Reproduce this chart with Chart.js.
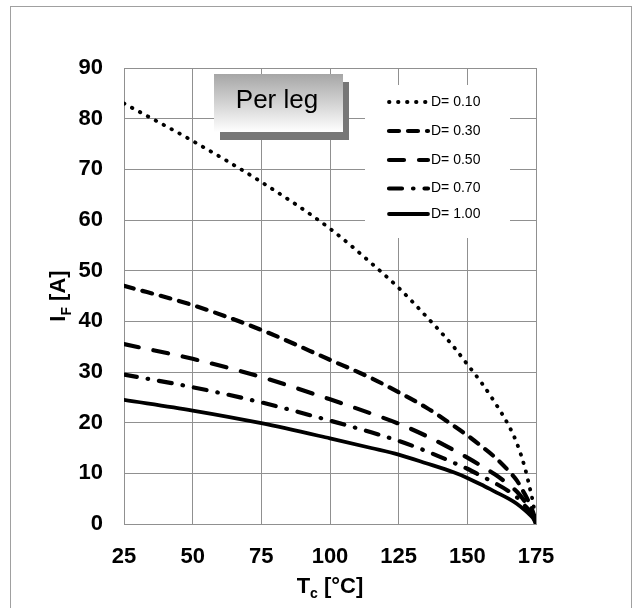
<!DOCTYPE html>
<html>
<head>
<meta charset="utf-8">
<script src="https://cdn.jsdelivr.net/npm/chart.js@4"></script>
<style>
html,body{margin:0;padding:0;background:#fff;}
canvas{display:block;}
</style>
</head>
<body>
<canvas id="c" width="633" height="608"></canvas>
<script>
// ---- data ----
const tempC = [25, 50, 75, 100, 115, 125, 135, 145, 150, 155, 160, 165, 168, 171, 173, 174, 175];
const iD010 = [83, 75.6, 67.5, 58.3, 51.5, 46.6, 41, 35, 31.5, 28, 24, 19.5, 16, 11, 6.5, 4, 0];
const iD030 = [47, 43.2, 38.3, 32.4, 28.8, 26, 23, 19.4, 17.5, 15.4, 13.2, 10.5, 8.6, 5.8, 3.6, 2.2, 0];
const iD050 = [35.5, 32.6, 29, 24.6, 21.8, 19.8, 17.4, 14.6, 13.1, 11.5, 9.8, 7.8, 6.4, 4.4, 2.7, 1.7, 0];
const iD070 = [29.5, 27, 24, 20.4, 18.1, 16.4, 14.4, 12.1, 10.9, 9.5, 8.1, 6.5, 5.3, 3.6, 2.3, 1.4, 0];
const iD100 = [24.5, 22.4, 19.9, 16.9, 15, 13.7, 12, 10.2, 9.1, 7.8, 6.4, 5, 4, 2.7, 1.7, 1.1, 0];
const seriesLabels = ['D= 0.10', 'D= 0.30', 'D= 0.50', 'D= 0.70', 'D= 1.00'];
const xTicks = [25, 50, 75, 100, 125, 150, 175];
const yTicks = [0, 10, 20, 30, 40, 50, 60, 70, 80, 90];

const styles = [
  {w: 3.8, dash: [0.5, 8.5]},
  {w: 4.2, dash: [10, 9]},
  {w: 4.2, dash: [15, 15]},
  {w: 4.2, dash: [13, 11, 0.5, 11]},
  {w: 3.8, dash: []}
];
const allSeries = [iD010, iD030, iD050, iD070, iD100];
const FONT = '"Liberation Sans", Arial, Helvetica, sans-serif';

const datasets = allSeries.map((arr, i) => ({
  label: seriesLabels[i],
  data: tempC.map((t, k) => ({x: t, y: arr[k]})),
  borderColor: '#000',
  borderWidth: styles[i].w,
  borderDash: styles[i].dash,
  borderCapStyle: 'round',
  borderJoinStyle: 'round',
  pointRadius: 0,
  fill: false,
  cubicInterpolationMode: 'monotone'
}));

const decor = {
  id: 'decor',
  beforeDraw(chart) {
    const ctx = chart.ctx;
    ctx.save();
    ctx.fillStyle = '#fff';
    ctx.fillRect(0, 0, chart.width, chart.height);
    ctx.strokeStyle = '#a0a0a0';
    ctx.lineWidth = 1;
    ctx.strokeRect(10.5, 6.5, 621, 620);
    ctx.restore();
  },
  afterDatasetsDraw(chart) {
    const ctx = chart.ctx;
    const ca = chart.chartArea;
    ctx.save();
    // "Per leg" box with shadow and gradient
    ctx.fillStyle = '#777';
    ctx.fillRect(220, 82, 129, 58);
    const g = ctx.createLinearGradient(0, 74, 0, 132);
    g.addColorStop(0, '#a6a6a6');
    g.addColorStop(1, '#ffffff');
    ctx.fillStyle = g;
    ctx.fillRect(214, 74, 129, 58);
    ctx.fillStyle = '#000';
    ctx.font = '26px ' + FONT;
    ctx.textAlign = 'center';
    ctx.textBaseline = 'alphabetic';
    ctx.fillText('Per leg', 277, 108);

    // legend box
    ctx.fillStyle = '#fff';
    ctx.fillRect(365, 85, 145, 153);
    const rowsY = [102, 131, 160, 188.5, 214];
    ctx.font = '14px ' + FONT;
    ctx.textAlign = 'left';
    ctx.textBaseline = 'middle';
    rowsY.forEach((yy, i) => {
      ctx.beginPath();
      ctx.strokeStyle = '#000';
      ctx.lineWidth = styles[i].w;
      ctx.lineCap = 'round';
      ctx.setLineDash(styles[i].dash);
      ctx.moveTo(389, yy);
      ctx.lineTo(428, yy);
      ctx.stroke();
      ctx.setLineDash([]);
      ctx.fillStyle = '#000';
      ctx.fillText(seriesLabels[i], 431, yy);
    });

    // x axis title  T_c [°C]
    ctx.textBaseline = 'alphabetic';
    ctx.textAlign = 'left';
    const bigF = 'bold 22px ' + FONT;
    const smallF = 'bold 14px ' + FONT;
    ctx.font = bigF; const wT = ctx.measureText('T').width;
    ctx.font = smallF; const wc = ctx.measureText('c').width;
    ctx.font = bigF; const wR = ctx.measureText(' [°C]').width;
    let x0 = (ca.left + ca.right) / 2 - (wT + wc + wR) / 2;
    const by = 593;
    ctx.font = bigF; ctx.fillText('T', x0, by);
    ctx.font = smallF; ctx.fillText('c', x0 + wT, by + 5);
    ctx.font = bigF; ctx.fillText(' [°C]', x0 + wT + wc, by);

    // y axis title  I_F [A]
    ctx.translate(65, (ca.top + ca.bottom) / 2);
    ctx.rotate(-Math.PI / 2);
    ctx.font = bigF; const wI = ctx.measureText('I').width;
    ctx.font = smallF; const wF = ctx.measureText('F').width;
    ctx.font = bigF; const wA = ctx.measureText(' [A]').width;
    let s0 = -(wI + wF + wA) / 2;
    ctx.font = bigF; ctx.fillText('I', s0, 0);
    ctx.font = smallF; ctx.fillText('F', s0 + wI, 6);
    ctx.font = bigF; ctx.fillText(' [A]', s0 + wI + wF, 0);
    ctx.restore();
  }
};

new Chart(document.getElementById('c'), {
  type: 'line',
  data: {datasets},
  options: {
    responsive: false,
    animation: false,
    layout: {padding: {left: 0, top: 68, right: 97, bottom: 0}},
    plugins: {legend: {display: false}, tooltip: {enabled: false}},
    scales: {
      x: {
        type: 'linear', min: 25, max: 175,
        afterBuildTicks: s => { s.ticks = xTicks.map(v => ({value: v})); },
        afterFit: s => { s.height = 84; },
        ticks: {color: '#000', font: {family: FONT, size: 22, weight: 'bold'}, padding: 20, maxRotation: 0, autoSkip: false},
        grid: {color: '#909090', lineWidth: 1, drawTicks: false},
        border: {color: '#909090', width: 1}
      },
      y: {
        type: 'linear', min: 0, max: 90,
        afterBuildTicks: s => { s.ticks = yTicks.map(v => ({value: v})); },
        afterFit: s => { s.width = 124; },
        ticks: {color: '#000', font: {family: FONT, size: 22, weight: 'bold'}, padding: 21, autoSkip: false},
        grid: {color: '#909090', lineWidth: 1, drawTicks: false},
        border: {color: '#909090', width: 1}
      }
    }
  },
  plugins: [decor]
});
</script>
</body>
</html>
